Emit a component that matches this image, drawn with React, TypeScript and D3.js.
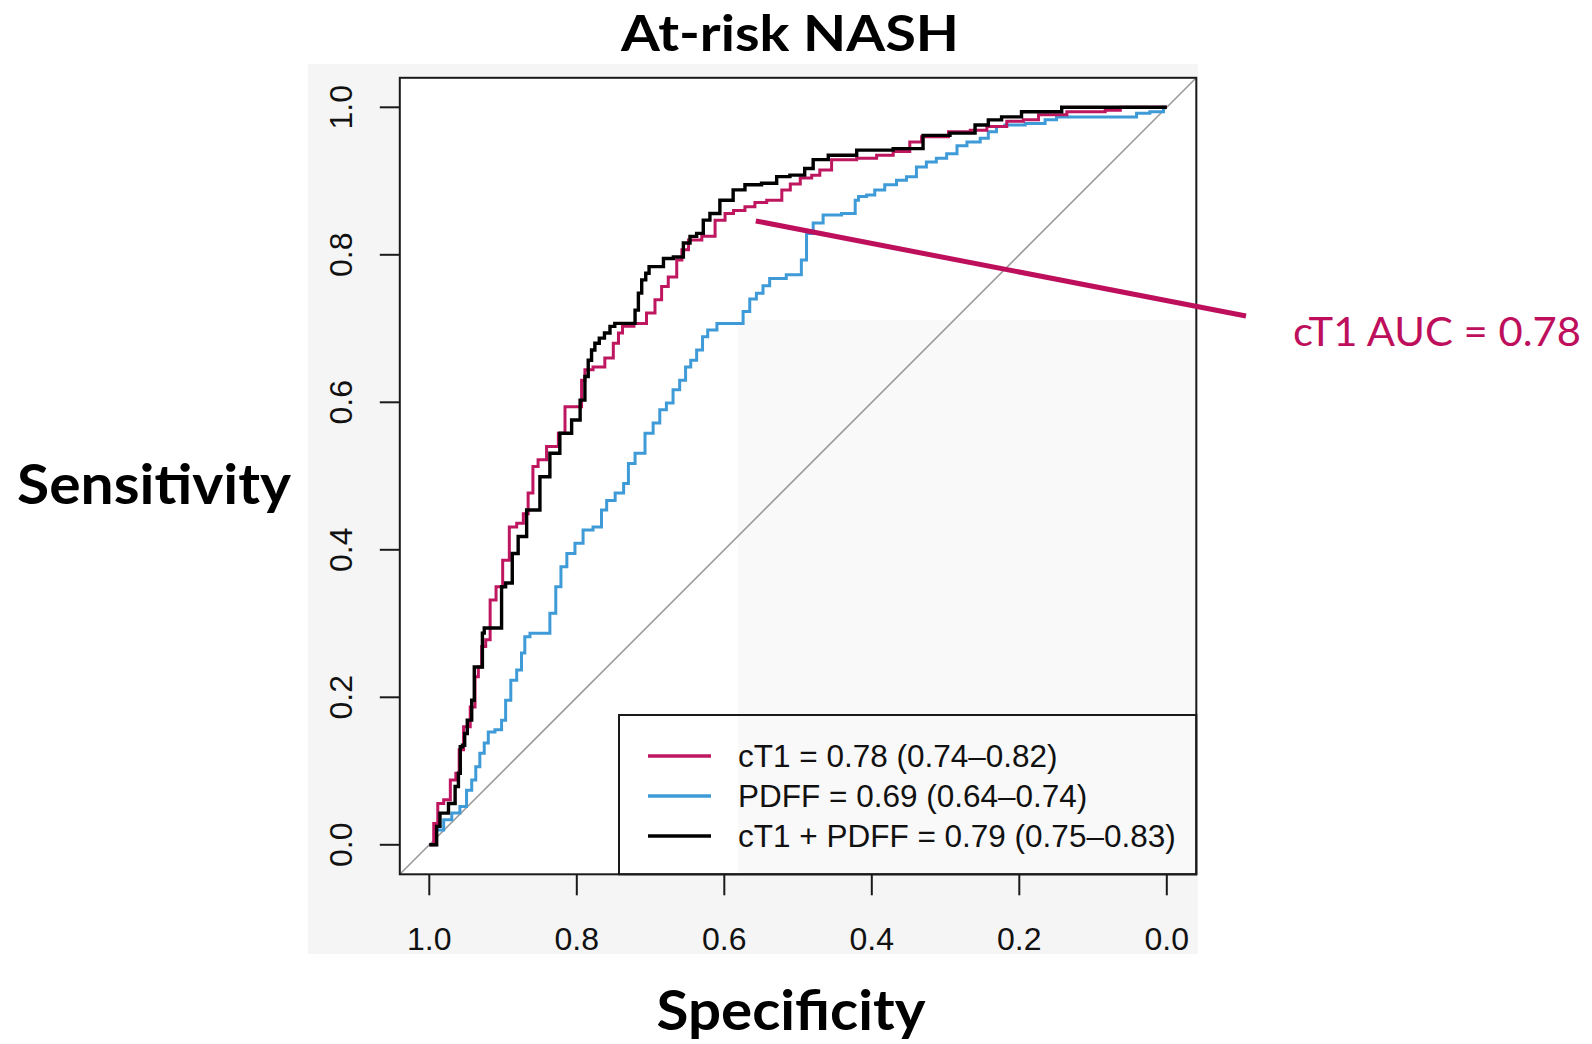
import React from "react";
import * as d3 from "d3";

// ---- Data ----
const tickValues = [0, 0.2, 0.4, 0.6, 0.8, 1.0];
const tickLabels = ["0.0", "0.2", "0.4", "0.6", "0.8", "1.0"];

const seriesNames = ["cT1", "PDFF", "cT1 + PDFF"];
const seriesColors = ["#BF1660", "#3E9BD8", "#000000"];
const legendLabels = [
  "cT1 = 0.78 (0.74\u20130.82)",
  "PDFF = 0.69 (0.64\u20130.74)",
  "cT1 + PDFF = 0.79 (0.75\u20130.83)",
];

// 1 - specificity (false positive rate) and sensitivity for each curve
const cT1Fpr = [0, 0.004, 0.008, 0.015, 0.024, 0.033, 0.039, 0.042, 0.051, 0.06, 0.064, 0.069, 0.073, 0.08, 0.085, 0.096, 0.103, 0.114, 0.123, 0.132, 0.136, 0.145, 0.15, 0.168, 0.182, 0.186, 0.204, 0.209, 0.213, 0.231, 0.245, 0.254, 0.259, 0.265, 0.29, 0.299, 0.313, 0.317, 0.331, 0.34, 0.345, 0.358, 0.381, 0.394, 0.408, 0.417, 0.439, 0.444, 0.471, 0.485, 0.494, 0.512, 0.525, 0.534, 0.557, 0.602, 0.611, 0.647, 0.656, 0.679, 0.729, 0.738, 0.774, 0.792, 0.819, 0.833, 0.896, 0.937, 0.937, 1];
const cT1Sens = [0, 0, 0.029, 0.056, 0.061, 0.088, 0.097, 0.129, 0.16, 0.187, 0.228, 0.241, 0.269, 0.278, 0.332, 0.35, 0.386, 0.431, 0.436, 0.449, 0.477, 0.513, 0.522, 0.54, 0.558, 0.594, 0.594, 0.63, 0.644, 0.648, 0.66, 0.68, 0.694, 0.703, 0.707, 0.721, 0.739, 0.757, 0.77, 0.793, 0.807, 0.82, 0.825, 0.847, 0.856, 0.86, 0.865, 0.871, 0.874, 0.888, 0.896, 0.904, 0.908, 0.915, 0.929, 0.931, 0.935, 0.94, 0.953, 0.96, 0.967, 0.969, 0.974, 0.981, 0.983, 0.99, 0.994, 0.996, 1, 1];

const pdffFpr = [0, 0.004, 0.015, 0.024, 0.037, 0.046, 0.055, 0.06, 0.066, 0.071, 0.078, 0.082, 0.096, 0.1, 0.107, 0.114, 0.123, 0.127, 0.132, 0.141, 0.159, 0.168, 0.175, 0.182, 0.191, 0.204, 0.213, 0.231, 0.236, 0.245, 0.259, 0.268, 0.272, 0.286, 0.299, 0.308, 0.317, 0.326, 0.335, 0.344, 0.351, 0.358, 0.367, 0.374, 0.381, 0.399, 0.421, 0.43, 0.439, 0.448, 0.457, 0.466, 0.502, 0.507, 0.516, 0.525, 0.543, 0.575, 0.58, 0.584, 0.602, 0.606, 0.629, 0.638, 0.656, 0.665, 0.683, 0.692, 0.711, 0.72, 0.738, 0.756, 0.76, 0.778, 0.783, 0.833, 0.837, 0.864, 0.955, 0.963, 0.991, 1];
const pdffSens = [0, 0, 0.02, 0.034, 0.043, 0.052, 0.074, 0.088, 0.106, 0.124, 0.138, 0.153, 0.156, 0.169, 0.196, 0.223, 0.237, 0.26, 0.282, 0.287, 0.287, 0.314, 0.35, 0.377, 0.395, 0.409, 0.427, 0.431, 0.454, 0.467, 0.477, 0.49, 0.517, 0.531, 0.558, 0.572, 0.59, 0.599, 0.617, 0.63, 0.648, 0.657, 0.671, 0.689, 0.698, 0.707, 0.707, 0.723, 0.74, 0.748, 0.758, 0.768, 0.773, 0.793, 0.829, 0.843, 0.854, 0.856, 0.874, 0.879, 0.881, 0.888, 0.895, 0.901, 0.906, 0.919, 0.926, 0.931, 0.937, 0.948, 0.953, 0.958, 0.967, 0.974, 0.976, 0.978, 0.983, 0.987, 0.987, 0.992, 0.994, 1];

const comboFpr = [0, 0.01, 0.01, 0.019, 0.033, 0.037, 0.042, 0.042, 0.048, 0.048, 0.055, 0.06, 0.062, 0.071, 0.073, 0.076, 0.096, 0.1, 0.107, 0.118, 0.123, 0.141, 0.159, 0.168, 0.186, 0.2, 0.209, 0.213, 0.218, 0.222, 0.227, 0.234, 0.241, 0.249, 0.254, 0.277, 0.281, 0.286, 0.29, 0.297, 0.299, 0.313, 0.322, 0.34, 0.349, 0.358, 0.367, 0.376, 0.385, 0.403, 0.421, 0.435, 0.466, 0.476, 0.502, 0.516, 0.525, 0.557, 0.602, 0.656, 0.683, 0.729, 0.751, 0.765, 0.787, 0.819, 0.896, 1];
const comboSens = [0, 0, 0.025, 0.043, 0.056, 0.079, 0.097, 0.133, 0.135, 0.151, 0.169, 0.196, 0.241, 0.241, 0.287, 0.294, 0.294, 0.35, 0.355, 0.395, 0.418, 0.454, 0.499, 0.531, 0.558, 0.576, 0.603, 0.635, 0.657, 0.671, 0.68, 0.687, 0.694, 0.703, 0.707, 0.707, 0.725, 0.748, 0.766, 0.775, 0.784, 0.784, 0.795, 0.797, 0.816, 0.825, 0.829, 0.847, 0.856, 0.874, 0.888, 0.895, 0.897, 0.906, 0.908, 0.917, 0.929, 0.935, 0.942, 0.944, 0.962, 0.965, 0.976, 0.983, 0.987, 0.994, 1, 1];

const titleText = "At-risk NASH";
const yTitle = "Sensitivity";
const xTitle = "Specificity";
const annotationText = "cT1 AUC = 0.78";
const annotationSpec = 0.56; // where the pointer touches the cT1 curve
const annotationSens = 0.85;

export default function App() {
  const W = 1592;
  const H = 1044;

  const x = d3.scaleLinear().domain([1, 0]).range([429.3, 1166.8]); // specificity
  const y = d3.scaleLinear().domain([0, 1]).range([844.8, 107.3]); // sensitivity

  const left = x(1.04);
  const right = x(-0.04);
  const top = y(1.04);
  const bottom = y(-0.04);

  const line = d3
    .line<[number, number]>()
    .x((d) => x(1 - d[0]))
    .y((d) => y(d[1]))
    .curve(d3.curveStep);

  const curves = [
    { fpr: pdffFpr, sens: pdffSens, color: seriesColors[1], w: 3 },
    { fpr: cT1Fpr, sens: cT1Sens, color: seriesColors[0], w: 3 },
    { fpr: comboFpr, sens: comboSens, color: seriesColors[2], w: 3.4 },
  ];

  const legendX = 619;
  const legendY = 715;
  const legendRows = [756, 796, 836];

  const labelFont = "'Liberation Sans', Arial, Helvetica, sans-serif";
  const calFont = "Lato, 'Open Sans', sans-serif";

  return (
    <svg
      width={W}
      height={H}
      viewBox={`0 0 ${W} ${H}`}
      style={{ position: "absolute", left: 0, top: 0, background: "#fff" }}
    >
      {/* picture background */}
      <rect x={308} y={64} width={890} height={890} fill="#F5F5F5" />
      {/* plot region */}
      <rect x={left} y={top} width={right - left} height={bottom - top} fill="#FFFFFF" />
      <rect x={738} y={320} width={right - 738} height={bottom - 320} fill="#F9F9F9" />

      {/* diagonal reference */}
      <line x1={left} y1={bottom} x2={right} y2={top} stroke="#9A9A9A" strokeWidth={1.6} />

      {/* curves */}
      {curves.map((c, i) => (
        <path
          key={i}
          d={line(c.fpr.map((f, k) => [f, c.sens[k]] as [number, number])) || ""}
          fill="none"
          stroke={c.color}
          strokeWidth={c.w}
          strokeLinejoin="miter"
        />
      ))}

      {/* legend */}
      <rect
        x={legendX}
        y={legendY}
        width={right - legendX}
        height={bottom - legendY}
        fill="none"
        stroke="#1a1a1a"
        strokeWidth={2}
      />
      {legendLabels.map((lab, i) => (
        <g key={lab}>
          <line
            x1={648}
            x2={711}
            y1={legendRows[i]}
            y2={legendRows[i]}
            stroke={seriesColors[i]}
            strokeWidth={3.4}
          />
          <text
            x={738}
            y={legendRows[i] + 11}
            fontFamily={labelFont}
            fontSize={31.5}
            fill="#111"
          >
            {lab}
          </text>
        </g>
      ))}

      {/* frame */}
      <rect
        x={left}
        y={top}
        width={right - left}
        height={bottom - top}
        fill="none"
        stroke="#1a1a1a"
        strokeWidth={2}
      />

      {/* y axis */}
      {tickValues.map((v, i) => (
        <g key={"y" + v}>
          <line x1={left - 20} x2={left} y1={y(v)} y2={y(v)} stroke="#1a1a1a" strokeWidth={2} />
          <text
            transform={`translate(352,${y(v)}) rotate(-90)`}
            textAnchor="middle"
            fontFamily={labelFont}
            fontSize={32}
            fill="#111"
          >
            {tickLabels[i]}
          </text>
        </g>
      ))}

      {/* x axis (specificity, reversed) */}
      {tickValues.map((v, i) => (
        <g key={"x" + v}>
          <line x1={x(v)} x2={x(v)} y1={bottom} y2={bottom + 21} stroke="#1a1a1a" strokeWidth={2} />
          <text
            x={x(v)}
            y={950}
            textAnchor="middle"
            fontFamily={labelFont}
            fontSize={32}
            fill="#111"
          >
            {tickLabels[i]}
          </text>
        </g>
      ))}

      {/* annotation pointer */}
      <line
        x1={x(annotationSpec) + 2}
        y1={y(annotationSens) + 3}
        x2={1246}
        y2={316}
        stroke="#BE0F5C"
        strokeWidth={5}
      />
      <text
        x={1293}
        y={346}
        fontFamily={calFont}
        fontSize={41}
        fill="#BE0F5C"
        textLength={288}
        lengthAdjust="spacingAndGlyphs"
      >
        {annotationText}
      </text>

      {/* titles */}
      <text
        x={790}
        y={51}
        textAnchor="middle"
        fontFamily={calFont}
        fontWeight="bold"
        fontSize={50}
        fill="#000"
        textLength={338}
        lengthAdjust="spacingAndGlyphs"
      >
        {titleText}
      </text>
      <text
        x={154}
        y={504}
        textAnchor="middle"
        fontFamily={calFont}
        fontWeight="bold"
        fontSize={56}
        fill="#000"
        textLength={274}
        lengthAdjust="spacingAndGlyphs"
      >
        {yTitle}
      </text>
      <text
        x={791}
        y={1030}
        textAnchor="middle"
        fontFamily={calFont}
        fontWeight="bold"
        fontSize={56}
        fill="#000"
        textLength={269}
        lengthAdjust="spacingAndGlyphs"
      >
        {xTitle}
      </text>
    </svg>
  );
}
